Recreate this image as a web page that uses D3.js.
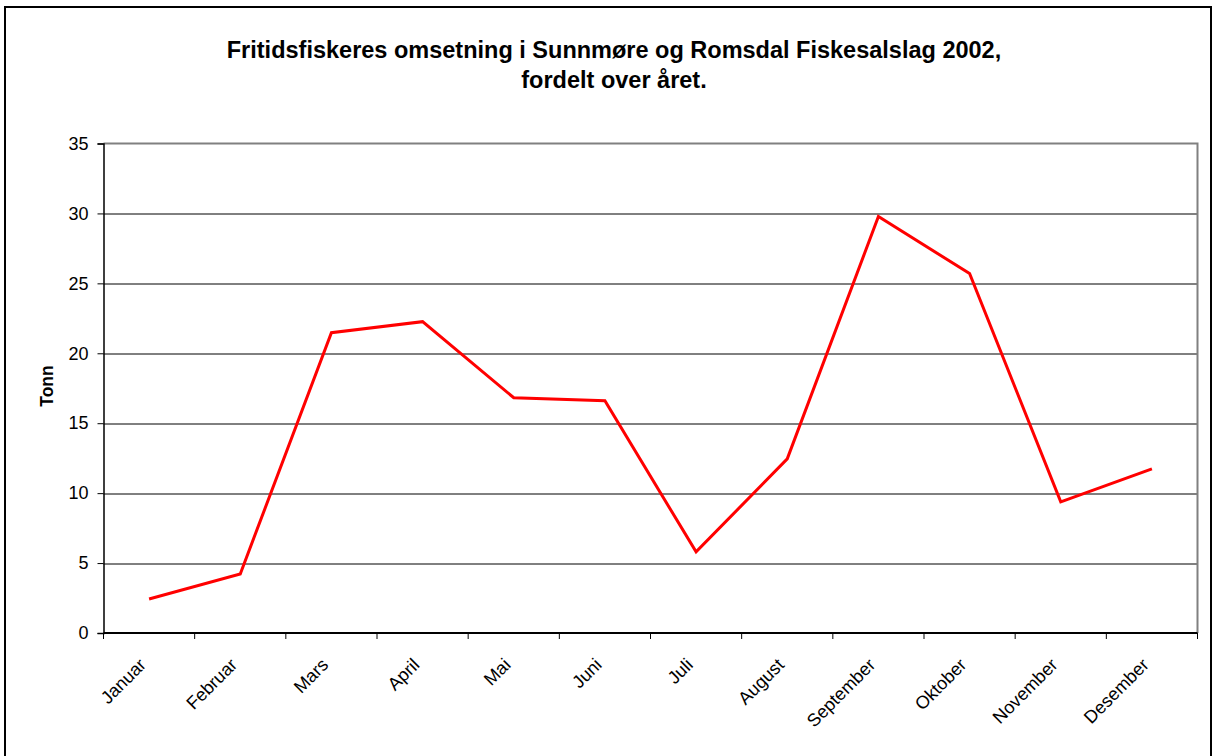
<!DOCTYPE html>
<html>
<head>
<meta charset="utf-8">
<script src="https://cdn.jsdelivr.net/npm/d3@7"></script>
<style>
  body { margin: 0; background: #fff; }
  text { font-family: "Liberation Sans", Arial, sans-serif; }
</style>
</head>
<body>
<div id="chart"></div>
<script>
// data
var months = ["Januar", "Februar", "Mars", "April", "Mai", "Juni", "Juli", "August", "September", "Oktober", "November", "Desember"];
var tonn = [2.43, 4.22, 21.47, 22.26, 16.82, 16.6, 5.8, 12.45, 29.78, 25.7, 9.38, 11.74];
var yTicks = [0, 5, 10, 15, 20, 25, 30, 35];

var width = 1214, height = 756;
var margin = {top: 143.5, right: 16.5, bottom: 123, left: 103.5};
var plotW = width - margin.left - margin.right;
var plotH = height - margin.top - margin.bottom;

var svg = d3.select("#chart")
    .append("svg")
    .attr("width", width)
    .attr("height", height);

// outer chart frame
svg.append("rect")
    .attr("x", 5)
    .attr("y", 7)
    .attr("width", 1206)
    .attr("height", 760)
    .style("fill", "none")
    .style("stroke", "black")
    .style("stroke-width", 2);

// title
var title = svg.append("text")
    .attr("text-anchor", "middle")
    .style("font-weight", "bold")
    .style("font-size", "23.5px");
title.append("tspan").attr("x", 614).attr("y", 58).text("Fritidsfiskeres omsetning i Sunnmøre og Romsdal Fiskesalslag 2002,");
title.append("tspan").attr("x", 614).attr("y", 88).text("fordelt over året.");

var g = svg.append("g")
    .attr("transform", "translate(" + margin.left + "," + margin.top + ")");

var x = d3.scaleBand()
    .domain(months)
    .range([0, plotW]);

var y = d3.scaleLinear()
    .domain([0, 35])
    .range([plotH, 0]);

// grid lines
g.selectAll(".grid")
    .data(yTicks.slice(1, -1))
    .enter()
    .append("line")
    .attr("class", "grid")
    .attr("x1", 0)
    .attr("x2", plotW)
    .attr("y1", function(d) { return Math.round(y(d)) + 0.5; })
    .attr("y2", function(d) { return Math.round(y(d)) + 0.5; })
    .style("stroke", "black")
    .style("stroke-width", 1);

// plot frame top/right (grey)
g.append("path")
    .attr("d", "M0," + 0 + "H" + plotW + "V" + plotH)
    .style("fill", "none")
    .style("stroke", "#808080")
    .style("stroke-width", 2);

// y axis
var yAxis = d3.axisLeft(y)
    .tickValues(yTicks)
    .tickSize(6)
    .tickPadding(9);

var yg = g.append("g").call(yAxis);
yg.select(".domain").style("stroke", "black").style("stroke-width", 1.5);
yg.selectAll(".tick line").style("stroke", "black");
yg.selectAll("text")
    .style("font-size", "18px")
    .style("font-family", "Liberation Sans, Arial, sans-serif")
    .attr("fill", "black");

// x axis: ticks between categories
var bounds = d3.range(months.length + 1).map(function(i) { return i * x.step(); });
g.append("line")
    .attr("x1", 0).attr("x2", plotW)
    .attr("y1", plotH).attr("y2", plotH)
    .style("stroke", "black")
    .style("stroke-width", 2);
g.selectAll(".xtick")
    .data(bounds)
    .enter()
    .append("line")
    .attr("class", "xtick")
    .attr("x1", function(d) { return d; })
    .attr("x2", function(d) { return d; })
    .attr("y1", plotH)
    .attr("y2", plotH + 6)
    .style("stroke", "black")
    .style("stroke-width", 1);

g.selectAll(".xlabel")
    .data(months)
    .enter()
    .append("text")
    .attr("class", "xlabel")
    .attr("text-anchor", "end")
    .attr("transform", function(d) {
        return "translate(" + (x(d) + x.bandwidth() / 2 - 2) + "," + (plotH + 33) + ") rotate(-45)";
    })
    .style("font-size", "18px")
    .text(function(d) { return d; });

// y axis title
svg.append("text")
    .attr("transform", "translate(53,386) rotate(-90)")
    .attr("text-anchor", "middle")
    .style("font-weight", "bold")
    .style("font-size", "17.5px")
    .text("Tonn");

// the line
var line = d3.line()
    .x(function(d, i) { return x(months[i]) + x.bandwidth() / 2; })
    .y(function(d) { return y(d); });

g.append("path")
    .datum(tonn)
    .attr("d", line)
    .style("fill", "none")
    .style("stroke", "#ff0000")
    .style("stroke-width", 3);
</script>
</body>
</html>
